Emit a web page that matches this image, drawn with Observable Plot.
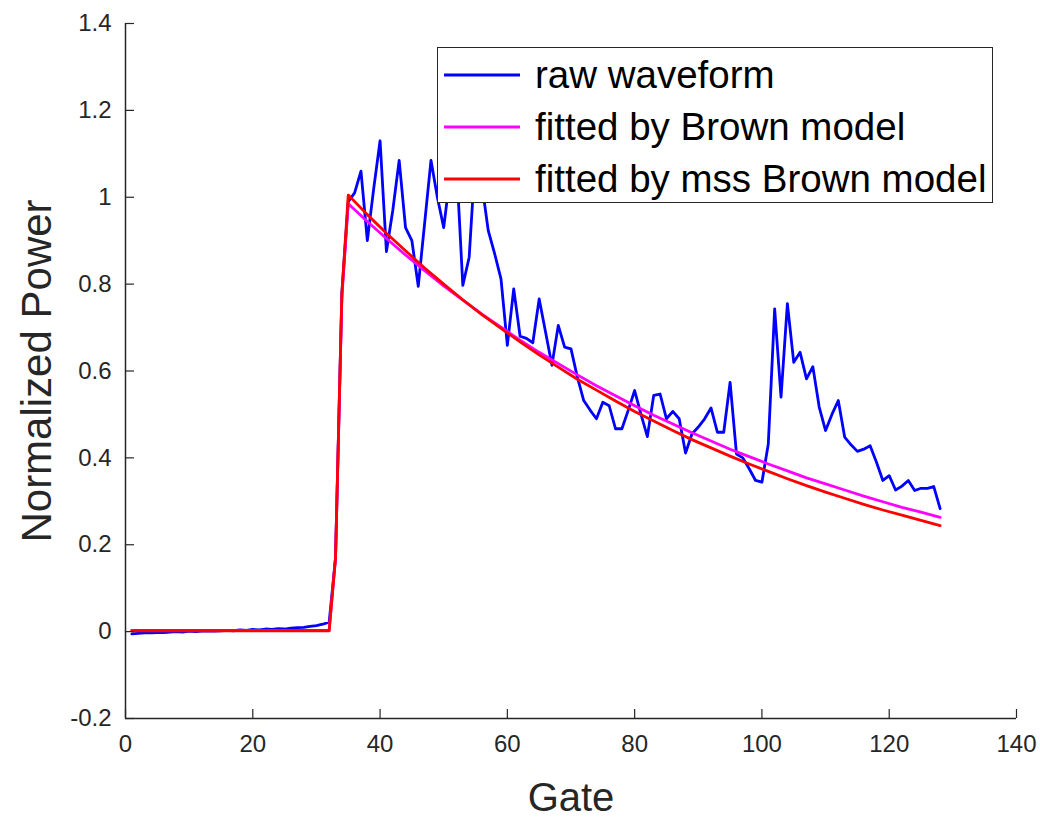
<!DOCTYPE html>
<html><head><meta charset="utf-8">
<script src="https://cdn.jsdelivr.net/npm/d3@7"></script>
<script src="https://cdn.jsdelivr.net/npm/@observablehq/plot@0.6"></script>
<style>
body{margin:0;background:#fff;}
#wrap{position:relative;width:1040px;height:817px;font-family:"Liberation Sans",Arial,sans-serif;}
#legend{position:absolute;left:437px;top:47px;width:554px;height:154px;border:1.5px solid #262626;background:#fff;}
.row{position:absolute;left:0;width:100%;height:50px;}
.row svg{position:absolute;left:6px;top:0;}
.row span{position:absolute;left:97px;top:0;line-height:50px;font-size:38.5px;color:#000;white-space:nowrap;}
</style></head><body><div id="wrap"></div>
<script>
const xTicks = [0, 20, 40, 60, 80, 100, 120, 140];
const yTicks = [-0.2, 0, 0.2, 0.4, 0.6, 0.8, 1, 1.2, 1.4];
const yTickLabels = ["-0.2", "0", "0.2", "0.4", "0.6", "0.8", "1", "1.2", "1.4"];

// raw waveform, gates 1..128
const rawWaveform = [
  -0.005,-0.004,-0.003,-0.003,-0.002,-0.002,-0.001,0.000,-0.001,0.001,
  0.000,0.001,0.002,0.001,0.002,0.003,0.002,0.004,0.003,0.005,
  0.004,0.006,0.005,0.007,0.006,0.008,0.009,0.010,0.012,0.014,
  0.017,0.022,0.17,0.78,0.99,1.01,1.06,0.90,1.02,1.13,
  0.875,0.97,1.085,0.93,0.90,0.795,0.94,1.085,1.00,0.93,
  1.05,1.08,0.797,0.862,1.10,1.03,0.923,0.870,0.812,0.659,
  0.789,0.68,0.675,0.665,0.766,0.69,0.613,0.705,0.655,0.651,
  0.586,0.532,0.51,0.49,0.528,0.520,0.467,0.467,0.51,0.555,
  0.50,0.449,0.544,0.547,0.490,0.507,0.49,0.411,0.455,0.471,
  0.49,0.515,0.459,0.459,0.574,0.409,0.40,0.375,0.348,0.344,
  0.432,0.743,0.540,0.755,0.620,0.643,0.582,0.610,0.517,0.463,
  0.50,0.532,0.448,0.43,0.415,0.42,0.428,0.39,0.348,0.359,
  0.326,0.335,0.348,0.325,0.33,0.33,0.334,0.283
];

const fitGates = [1, 32, 33, 34, 35, 38, 41, 44, 47, 50, 53, 56, 59, 62, 65, 68, 71, 74, 77, 80,
  83, 86, 89, 92, 95, 98, 101, 104, 107, 110, 113, 116, 119, 122, 125, 128];
const brownFit = [0.003, 0.003, 0.17, 0.77, 0.985, 0.944, 0.905, 0.867, 0.831, 0.796, 0.763, 0.731,
  0.701, 0.671, 0.643, 0.617, 0.591, 0.566, 0.543, 0.520, 0.498, 0.478, 0.458, 0.439, 0.420, 0.403,
  0.386, 0.370, 0.354, 0.340, 0.326, 0.312, 0.299, 0.286, 0.275, 0.263];
const mssBrownFit = [0.002, 0.002, 0.17, 0.78, 1.005, 0.960, 0.917, 0.877, 0.837, 0.800, 0.764, 0.730,
  0.698, 0.667, 0.637, 0.609, 0.581, 0.556, 0.531, 0.507, 0.485, 0.463, 0.442, 0.423, 0.404, 0.386,
  0.369, 0.352, 0.336, 0.321, 0.307, 0.293, 0.280, 0.268, 0.256, 0.244];

const seriesNames = ["raw waveform", "fitted by Brown model", "fitted by mss Brown model"];
const seriesColors = ["#0000ff", "#ff00ff", "#ff0000"];
const xLabel = "Gate";
const yLabel = "Normalized Power";

const raw = rawWaveform.map((v, i) => ({gate: i + 1, value: v}));
const brown = fitGates.map((g, i) => ({gate: g, value: brownFit[i]}));
const mss = fitGates.map((g, i) => ({gate: g, value: mssBrownFit[i]}));

const W = 1040, H = 817, mL = 125, mR = 24, mT = 23, mB = 99;
const innerW = W - mL - mR, innerH = H - mT - mB;
const ink = "#262626";
const font = "Liberation Sans, Arial, sans-serif";

const chart = Plot.plot({
  width: W, height: H,
  marginLeft: mL, marginRight: mR, marginTop: mT, marginBottom: mB,
  style: {fontFamily: font, background: "#fff", overflow: "visible"},
  x: {domain: [0, 140]},
  y: {domain: [-0.2, 1.4]},
  marks: [
    Plot.axisX(xTicks, {tickSize: 0, tickPadding: 16, fontSize: 24, fill: ink, label: null}),
    Plot.axisY(yTicks, {tickSize: 0, tickPadding: 14, fontSize: 24, fill: ink, label: null,
      tickFormat: (d) => yTickLabels[yTicks.indexOf(d)]}),
    Plot.line(raw, {x: "gate", y: "value", stroke: seriesColors[0], strokeWidth: 2.8, strokeLinejoin: "round"}),
    Plot.line(brown, {x: "gate", y: "value", stroke: seriesColors[1], strokeWidth: 2.8, strokeLinejoin: "round"}),
    Plot.line(mss, {x: "gate", y: "value", stroke: seriesColors[2], strokeWidth: 2.8, strokeLinejoin: "round"}),
    Plot.ruleX([0], {stroke: ink, strokeWidth: 1.5}),
    Plot.ruleY([-0.2], {stroke: ink, strokeWidth: 1.5}),
    Plot.tickY(yTicks, {y: d => d, stroke: ink, strokeWidth: 1.2, insetRight: innerW - 9}),
    Plot.tickX(xTicks, {x: d => d, stroke: ink, strokeWidth: 1.2, insetTop: innerH - 9}),
    Plot.text([xLabel], {frameAnchor: "bottom", dy: 92, fontSize: 40, fill: ink, text: d => d}),
    Plot.text([yLabel], {frameAnchor: "left", dx: -88, rotate: -90, textAnchor: "middle", fontSize: 42, fill: ink, text: d => d})
  ]
});
const wrap = document.getElementById("wrap");
wrap.appendChild(chart);

const legend = document.createElement("div");
legend.id = "legend";
seriesNames.forEach((name, i) => {
  const row = document.createElement("div");
  row.className = "row";
  row.style.top = (2 + i * 52) + "px";
  row.innerHTML = `<svg width="78" height="50"><line x1="0" x2="76" y1="25" y2="25" stroke="${seriesColors[i]}" stroke-width="2.8"/></svg><span>${name}</span>`;
  legend.appendChild(row);
});
wrap.appendChild(legend);
</script>
</body></html>
